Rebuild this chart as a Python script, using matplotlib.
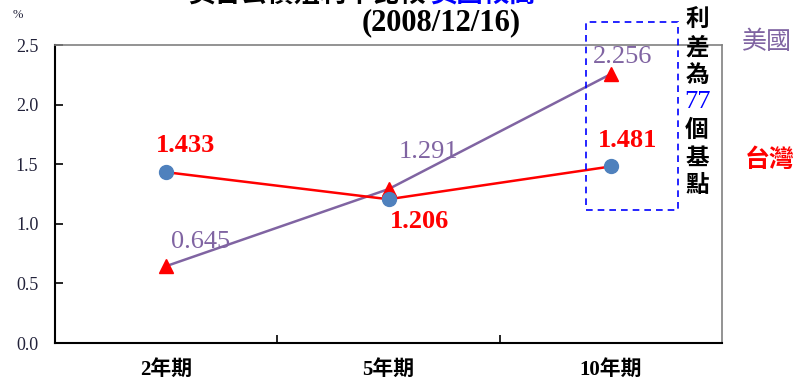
import matplotlib.pyplot as plt

# 殖利率資料 (%)
periods = ['2年期', '5年期', '10年期']
us_yield = [0.645, 1.291, 2.256]
tw_yield = [1.433, 1.206, 1.481]
spread_bp = 77

# 標籤位移 (像素)
us_offsets = [(34, 24), (40, 37), (12, 17)]
tw_offsets = [(19, 27), (31, -22), (17, 26)]

serif = ['Liberation Serif', 'Noto Sans CJK TC']
cjk = ['Noto Sans CJK TC', 'Liberation Serif']

purple = '#8064A2'
red = '#FF0000'
blue_dot = '#4F81BD'

fig = plt.figure(figsize=(8, 3.84), dpi=100)
ax = fig.add_axes([55 / 800, 41 / 384, 667 / 800, 298 / 384])

x = list(range(len(periods)))
ax.plot(x, us_yield, color=purple, linewidth=1.8, marker='^', markersize=10,
        markerfacecolor=red, markeredgecolor=red, zorder=3)
ax.plot(x, tw_yield, color=red, linewidth=1.8, marker='o', markersize=10,
        markerfacecolor=blue_dot, markeredgecolor=blue_dot, zorder=3)

for xi, v, off in zip(x, us_yield, us_offsets):
    ax.annotate(f'{v:.3f}', (xi, v), xytext=off, textcoords='offset pixels',
                ha='center', va='center', color=purple, fontsize=19,
                family='Liberation Serif', zorder=4)
for xi, v, off in zip(x, tw_yield, tw_offsets):
    ax.annotate(f'{v:.3f}', (xi, v), xytext=off, textcoords='offset pixels',
                ha='center', va='center', color=red, fontsize=19,
                fontweight='bold', family='Liberation Serif', zorder=4)

ax.set_xlim(-0.5, 2.5)
ax.set_ylim(0, 2.5)
ax.set_yticks([0, 0.5, 1.0, 1.5, 2.0, 2.5])
ax.set_yticklabels([f'{t:.1f}' for t in ax.get_yticks()], family='Liberation Serif',
                   fontsize=13, color='#22223a')
ax.tick_params(axis='y', direction='in', length=6, width=1.2, pad=12)

# 類別標籤置中, 刻度在類別之間
ax.set_xticks([0.5, 1.5])
ax.set_xticklabels([])
ax.set_xticks(x, minor=True)
ax.set_xticklabels(periods, minor=True, family=serif, fontsize=15, fontweight='bold')
ax.tick_params(axis='x', which='major', direction='in', length=6, width=1.2)
ax.tick_params(axis='x', which='minor', length=0, pad=12)

for s in ['left', 'bottom']:
    ax.spines[s].set_linewidth(1.5)
    ax.spines[s].set_color('black')
for s in ['top', 'right']:
    ax.spines[s].set_linewidth(1.2)
    ax.spines[s].set_color('#808080')

# 單位
fig.text(18 / 800, 1 - 15 / 384, '%', family='Liberation Serif', fontsize=9,
         color='#22223a', ha='center', va='center')

# 標題 (第一行在圖框上緣被裁切)
fig.text(426 / 800, 1 + 5 / 384, '美台公債殖利率比較', family=cjk, fontsize=19,
         fontweight='bold', ha='right', va='center', color='black')
fig.text(430 / 800, 1 + 5 / 384, '美國較高', family=cjk, fontsize=19,
         fontweight='bold', ha='left', va='center', color='blue')
fig.text(441 / 800, 1 - 23 / 384, '(2008/12/16)', family='Liberation Serif',
         fontsize=22, fontweight='bold', ha='center', va='center')

# 10年期利差框
box = plt.Rectangle((586 / 800, 1 - 210 / 384), 92 / 800, 188 / 384,
                    transform=fig.transFigure, fill=False, edgecolor='blue',
                    linestyle=(0, (4, 3)), linewidth=1.2)
fig.add_artist(box)

vertical = [('利', 'black'), ('差', 'black'), ('為', 'black'),
            (str(spread_bp), 'blue'), ('個', 'black'), ('基', 'black'), ('點', 'black')]
for i, (ch, c) in enumerate(vertical):
    y = 1 - (20 + i * 27.5) / 384
    if ch.isdigit():
        fig.text(697 / 800, y, ch, family='Liberation Serif', fontsize=19,
                 color=c, ha='center', va='center')
    else:
        fig.text(697 / 800, y, ch, family=cjk, fontsize=17, fontweight='bold',
                 color=c, ha='center', va='center')

# 圖例文字
fig.text(767 / 800, 1 - 42 / 384, '美國', family=cjk, fontsize=18,
         color=purple, ha='center', va='center')
fig.text(770 / 800, 1 - 160 / 384, '台灣', family=cjk, fontsize=18,
         fontweight='bold', color=red, ha='center', va='center')

fig.savefig('out.png', dpi=100)
